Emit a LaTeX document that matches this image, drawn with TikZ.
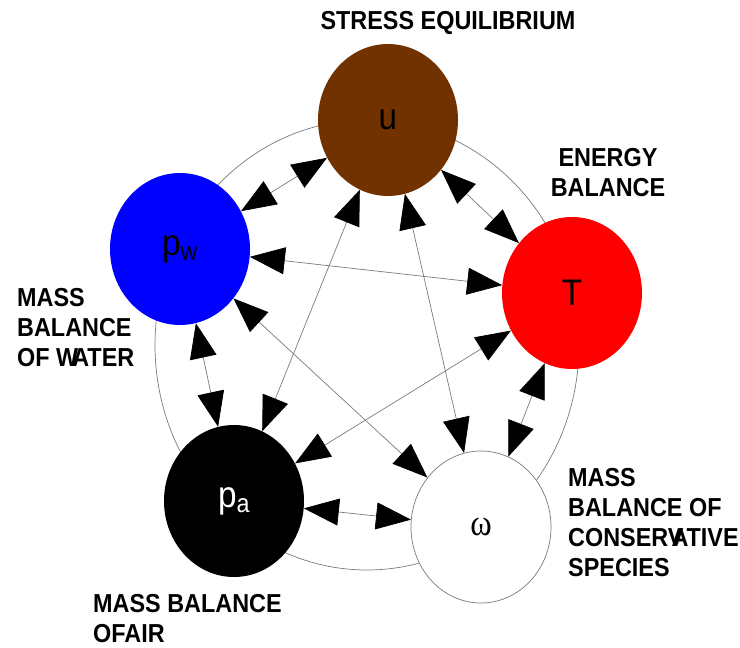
\documentclass[tikz,border=0pt]{standalone}
\usepackage{fontspec}
\setmainfont{Liberation Sans}
\newfontfamily\lblfont[FakeStretch=0.9]{Liberation Sans}
\newfontfamily\omgfont[FakeStretch=0.88]{Liberation Serif}
\usetikzlibrary{arrows.meta,shapes.geometric}
\definecolor{soil}{HTML}{723200}
\definecolor{water}{HTML}{0000FF}
\definecolor{heat}{HTML}{FF0000}
\definecolor{wire}{HTML}{7A7A7A}
\tikzset{
  var/.style={ellipse,minimum width=140pt,minimum height=152pt,inner sep=0pt,
    font=\lblfont\fontsize{37}{40}\selectfont},
  lbl/.style={font=\lblfont\bfseries\fontsize{26}{30}\selectfont,inner sep=0pt},
  ar/.style={{Triangle[length=35pt,width=27pt,color=black]}-{Triangle[length=35pt,width=27pt,color=black]},
    draw=wire,line width=0.7pt},
  ring/.style={draw=wire,line width=0.7pt},
}

\begin{document}
\begin{tikzpicture}[x=1pt,y=-1pt]
  \useasboundingbox (0,0) rectangle (740,648);
  \draw[ring] (367,345) ellipse [x radius=212pt, y radius=225pt];
  % the five fields
  \node[var,fill=soil] (u) at (388,120) {\raisebox{-4pt}{u}};
  \node[var,fill=water] (pw) at (180,249) {p\textsubscript{w}};
  \node[var,fill=heat] (T) at (572,293) {T};
  \node[var,fill=black,text=white] (pa) at (234,501) {p\textsubscript{a}};
  \node[var,fill=white,draw=wire,line width=0.7pt,
    font=\omgfont\fontsize{37}{40}\selectfont] (om) at (481,527) {ω};
  % couplings, every pair both ways
  \draw[ar] (u) -- (pw);
  \draw[ar] (u) -- (T);
  \draw[ar] (u) -- (pa);
  \draw[ar] (u) -- (om);
  \draw[ar] (pw) -- (T);
  \draw[ar] (pw) -- (pa);
  \draw[ar] (pw) -- (om);
  \draw[ar] (T) -- (pa);
  \draw[ar] (T) -- (om);
  \draw[ar] (pa) -- (om);
  % balance equations
  \node[lbl,anchor=base] (stress) at (448,29) {STRESS EQUILIBRIUM};
  \node[lbl,anchor=north,align=center] (energy) at (608,148) {ENERGY\\BALANCE};
  \node[lbl,anchor=north west,align=left] (water) at (17,288) {MASS\\BALANCE\\OF W\kern-6pt ATER};
  \node[lbl,anchor=north west,align=left] (species) at (568,468) {MASS\\BALANCE OF\\CONSERV\kern-12pt ATIVE\\SPECIES};
  \node[lbl,anchor=north west,align=left] (air) at (93,594) {MASS BALANCE\\OFAIR};
\end{tikzpicture}
\end{document}
